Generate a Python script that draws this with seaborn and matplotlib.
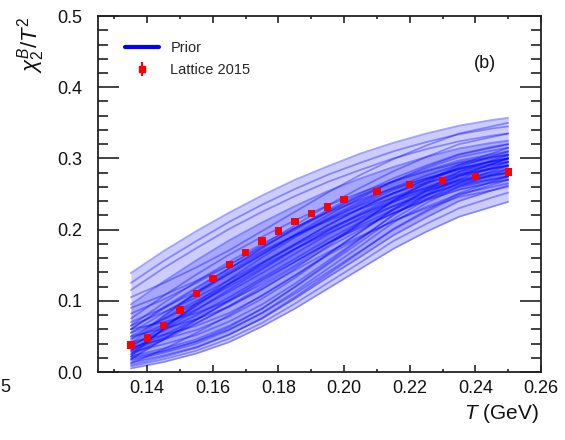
import matplotlib
matplotlib.use("Agg")
import matplotlib.pyplot as plt
from matplotlib.lines import Line2D
from matplotlib.ticker import MultipleLocator, FixedLocator
import seaborn as sns
import pandas as pd

# ---------------- data ----------------
T_GRID = [0.135, 0.145, 0.155, 0.165, 0.175, 0.185, 0.195, 0.205, 0.215, 0.225, 0.235, 0.245, 0.25]

PRIOR_01 = [.139, .170, .198, .224, .248, .270, .289, .307, .322, .335, .346, .354, .357]
PRIOR_02 = [.125, .156, .184, .211, .235, .257, .277, .294, .310, .323, .334, .342, .345]
PRIOR_03 = [.115, .146, .174, .201, .225, .247, .267, .284, .300, .313, .324, .332, .335]
PRIOR_04 = [.105, .125, .147, .171, .198, .225, .252, .277, .299, .318, .335, .345, .350]
PRIOR_05 = [.095, .127, .157, .185, .210, .233, .254, .272, .288, .302, .314, .322, .325]
PRIOR_06 = [.090, .108, .128, .151, .176, .200, .225, .248, .268, .286, .302, .311, .315]
PRIOR_07 = [.082, .102, .125, .150, .178, .206, .234, .259, .282, .302, .320, .330, .335]
PRIOR_08 = [.075, .107, .137, .165, .190, .213, .234, .252, .268, .282, .294, .302, .305]
PRIOR_09 = [.070, .090, .113, .138, .165, .193, .220, .245, .268, .288, .305, .315, .320]
PRIOR_10 = [.065, .084, .105, .129, .154, .180, .206, .230, .251, .270, .286, .295, .300]
PRIOR_11 = [.060, .070, .083, .100, .123, .150, .180, .210, .240, .265, .288, .303, .310]
PRIOR_12 = [.055, .074, .096, .120, .146, .173, .199, .223, .245, .264, .281, .290, .295]
PRIOR_13 = [.050, .061, .074, .092, .116, .145, .177, .209, .241, .267, .291, .307, .315]
PRIOR_14 = [.047, .066, .088, .113, .139, .166, .193, .217, .239, .258, .275, .285, .290]
PRIOR_15 = [.042, .052, .065, .083, .107, .135, .166, .197, .228, .254, .277, .292, .300]
PRIOR_16 = [.038, .058, .080, .105, .132, .159, .186, .211, .233, .253, .270, .280, .285]
PRIOR_17 = [.035, .046, .059, .078, .103, .132, .165, .197, .229, .256, .281, .297, .305]
PRIOR_18 = [.032, .052, .074, .099, .126, .154, .181, .206, .228, .248, .265, .275, .280]
PRIOR_19 = [.028, .039, .052, .071, .095, .124, .156, .188, .220, .247, .271, .287, .295]
PRIOR_20 = [.025, .045, .068, .093, .120, .148, .175, .200, .223, .243, .260, .270, .275]
PRIOR_21 = [.022, .033, .046, .065, .089, .119, .151, .183, .215, .242, .266, .282, .290]
PRIOR_22 = [.020, .030, .043, .060, .083, .110, .140, .170, .200, .225, .248, .263, .270]
PRIOR_23 = [.016, .027, .040, .059, .083, .113, .145, .177, .210, .237, .261, .277, .285]
PRIOR_24 = [.013, .023, .035, .053, .075, .103, .133, .162, .192, .217, .240, .255, .262]
PRIOR_25 = [.010, .021, .034, .052, .076, .105, .137, .169, .201, .227, .251, .267, .275]
PRIOR_26 = [.008, .018, .030, .047, .069, .096, .125, .154, .184, .208, .230, .245, .252]
PRIOR_27 = [.005, .014, .026, .042, .064, .089, .117, .145, .173, .197, .218, .232, .239]
PRIOR_28 = [.030, .048, .069, .092, .117, .143, .168, .191, .212, .230, .246, .255, .260]
PRIOR_29 = [.060, .091, .119, .146, .170, .192, .212, .229, .245, .258, .269, .277, .280]
PRIOR_30 = [.018, .029, .043, .063, .089, .120, .153, .187, .221, .249, .275, .292, .300]
PRIOR_31 = [.045, .079, .111, .141, .168, .192, .214, .234, .251, .266, .278, .286, .290]
PRIOR_32 = [.035, .064, .093, .123, .152, .179, .206, .230, .251, .270, .285, .296, .300]
PRIOR_33 = [.025, .061, .094, .125, .153, .178, .201, .221, .239, .255, .267, .276, .280]
PRIOR_34 = [.055, .083, .110, .138, .165, .191, .216, .239, .259, .276, .291, .301, .305]
PRIOR_35 = [.018, .046, .073, .101, .129, .155, .181, .203, .223, .241, .256, .266, .270]
PRIOR_36 = [.040, .078, .113, .145, .175, .202, .226, .248, .267, .283, .297, .306, .310]
PRIOR_37 = [.030, .059, .087, .116, .144, .172, .198, .221, .242, .260, .276, .286, .290]
PRIOR_38 = [.065, .097, .127, .155, .180, .203, .224, .242, .258, .272, .284, .292, .295]
PRIOR_39 = [.050, .075, .100, .124, .149, .173, .195, .215, .233, .249, .263, .271, .275]
PRIOR_40 = [.012, .032, .055, .080, .108, .136, .164, .189, .212, .232, .250, .260, .265]
PRIOR_41 = [.022, .061, .097, .130, .161, .189, .214, .236, .256, .272, .286, .296, .300]
PRIOR_42 = [.060, .089, .117, .146, .174, .202, .228, .251, .272, .290, .306, .316, .320]

LAT_T = [0.135, 0.14, 0.145, 0.15, 0.155, 0.16, 0.165, 0.17, 0.175, 0.18,
         0.185, 0.19, 0.195, 0.20, 0.21, 0.22, 0.23, 0.24, 0.25]
LAT_CHI = [0.038, 0.048, 0.065, 0.087, 0.110, 0.131, 0.151, 0.168, 0.184, 0.198,
           0.211, 0.223, 0.232, 0.242, 0.254, 0.263, 0.269, 0.275, 0.281]
LAT_ERR = [0.005, 0.004, 0.004, 0.004, 0.004, 0.004, 0.004, 0.004, 0.003, 0.003,
           0.003, 0.003, 0.003, 0.003, 0.003, 0.003, 0.003, 0.003, 0.003]

X_TICKS = [0.14, 0.16, 0.18, 0.20, 0.22, 0.24, 0.26]
X_TICK_LABELS = ["0.14", "0.16", "0.18", "0.20", "0.22", "0.24", "0.26"]
Y_TICKS = [0.0, 0.1, 0.2, 0.3, 0.4, 0.5]
Y_TICK_LABELS = ["0.0", "0.1", "0.2", "0.3", "0.4", "0.5"]

PRIOR_CURVES = [PRIOR_01, PRIOR_02, PRIOR_03, PRIOR_04, PRIOR_05, PRIOR_06, PRIOR_07,
                PRIOR_08, PRIOR_09, PRIOR_10, PRIOR_11, PRIOR_12, PRIOR_13, PRIOR_14,
                PRIOR_15, PRIOR_16, PRIOR_17, PRIOR_18, PRIOR_19, PRIOR_20, PRIOR_21,
                PRIOR_22, PRIOR_23, PRIOR_24, PRIOR_25, PRIOR_26, PRIOR_27, PRIOR_28,
                PRIOR_29, PRIOR_30, PRIOR_31, PRIOR_32, PRIOR_33, PRIOR_34, PRIOR_35,
                PRIOR_36, PRIOR_37, PRIOR_38, PRIOR_39, PRIOR_40, PRIOR_41, PRIOR_42]

# ---------------- style ----------------
sns.set_theme(style="ticks")
plt.rcParams['font.family'] = ['Liberation Sans', 'DejaVu Sans']
plt.rcParams['mathtext.fontset'] = 'custom'
plt.rcParams['mathtext.rm'] = 'Liberation Sans'
plt.rcParams['mathtext.it'] = 'Liberation Sans:italic'
plt.rcParams['mathtext.bf'] = 'Liberation Sans:bold'

fig = plt.figure(figsize=(5.65, 4.4), dpi=100)
ax = fig.add_axes([0.1735, 0.1545, 0.784, 0.809])

rows = []
for i, curve in enumerate(PRIOR_CURVES):
    for t, v in zip(T_GRID, curve):
        rows.append({"T": t, "chi": v, "curve": i})
df = pd.DataFrame(rows)

blue = (0, 0, 1)
# outer envelope of all prior curves, and the dense inner core
ax.fill_between(T_GRID, PRIOR_27, PRIOR_01, color=blue, alpha=0.20, lw=0)
ax.fill_between(T_GRID, PRIOR_24, PRIOR_05, color=blue, alpha=0.18, lw=0)
ax.fill_between(T_GRID, PRIOR_35, PRIOR_36, color=blue, alpha=0.28, lw=0)
sns.lineplot(data=df, x="T", y="chi", units="curve", estimator=None,
             color=blue, alpha=0.35, lw=1.3, ax=ax, legend=False)

ax.errorbar(LAT_T, LAT_CHI, yerr=LAT_ERR, fmt='none', ecolor='red',
            elinewidth=1.2, capsize=0, zorder=4)
sns.scatterplot(x=LAT_T, y=LAT_CHI, marker='s', s=28, color='red',
                edgecolor='none', ax=ax, zorder=5, legend=False)

# axes
ax.set_xlim(0.125, 0.26)
ax.set_ylim(0.0, 0.5)
ax.xaxis.set_major_locator(FixedLocator(X_TICKS))
ax.set_xticklabels(X_TICK_LABELS)
ax.xaxis.set_minor_locator(MultipleLocator(0.01))
ax.yaxis.set_major_locator(FixedLocator(Y_TICKS))
ax.set_yticklabels(Y_TICK_LABELS)
ax.yaxis.set_minor_locator(MultipleLocator(0.02))

for s in ax.spines.values():
    s.set_visible(True)
    s.set_linewidth(1.3)
    s.set_color('#222222')

ax.tick_params(which='both', direction='in', top=True, right=True,
               color='#222222', width=1.2, labelsize=13, labelcolor='#111111')
ax.tick_params(axis='x', which='major', length=5, pad=6)
ax.tick_params(axis='x', which='minor', length=2.5)
ax.tick_params(axis='y', which='major', length=15, pad=11)
ax.tick_params(axis='y', which='minor', length=7.5)

ax.set_xlabel("$T$ (GeV)", fontsize=15, color='#111111', ha='right')
ax.xaxis.set_label_coords(0.995, -0.085)
ax.set_ylabel(r"$\chi_2^B/T^2$", fontsize=16, color='#111111', ha='right')
ax.yaxis.set_label_coords(-0.115, 1.0)

# legend
h_prior = Line2D([0], [0], color=blue, lw=3)
h_lat = ax.errorbar([], [], yerr=[], fmt='s', color='red', ms=4, elinewidth=1.5,
                    capsize=2.5)
ax.legend([h_prior, h_lat], ["Prior", "Lattice 2015"], loc='upper left',
          bbox_to_anchor=(0.045, 0.95), frameon=False, fontsize=10.5,
          handlelength=2.3, handletextpad=0.8, labelspacing=0.55, borderpad=0)

ax.text(0.2429, 0.434, "(b)", fontsize=13, ha='center', va='center', color='#111111')
fig.text(0.0, 0.12, "5", fontsize=13, ha='left', va='center', color='#111111')

fig.savefig("out.png", dpi=100)
